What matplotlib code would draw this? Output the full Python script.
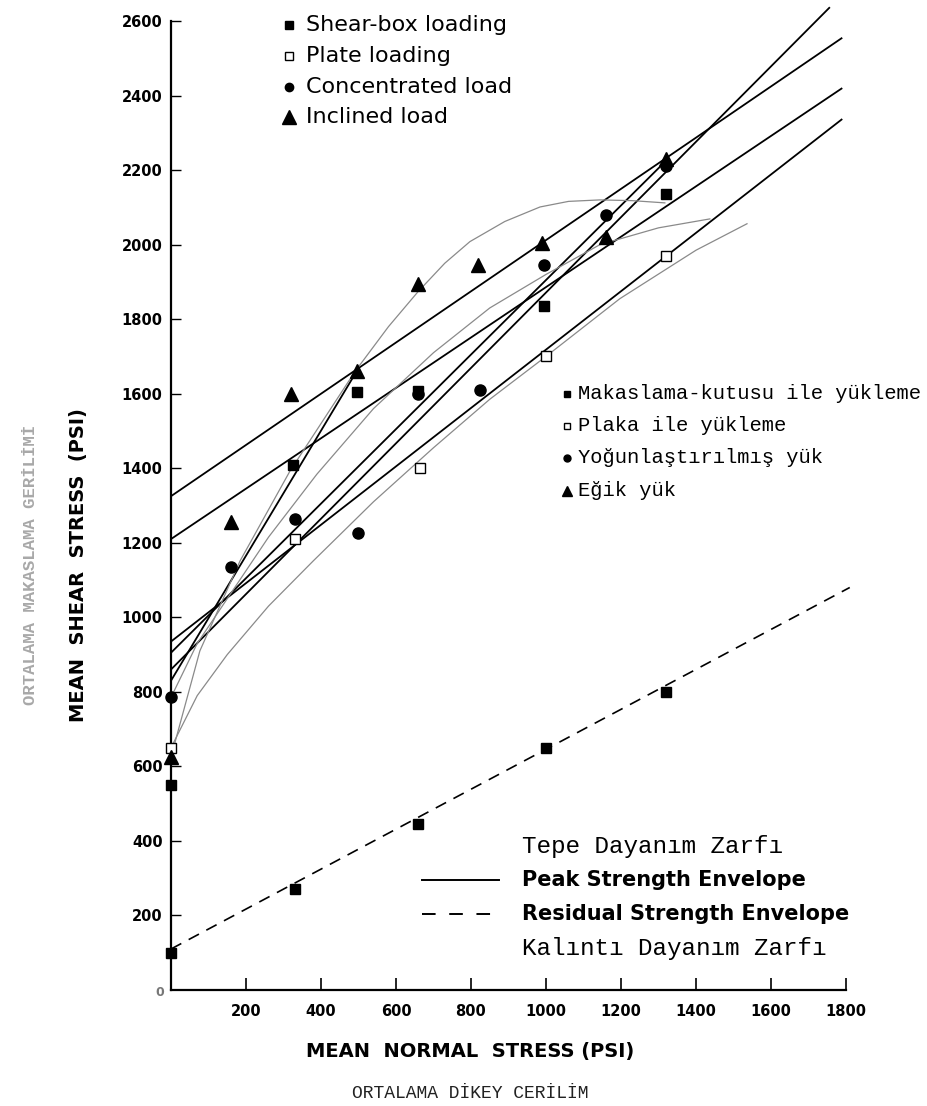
import matplotlib
matplotlib.use('Agg')
import matplotlib.pyplot as plt

# ---------------- data ----------------
shear_x = [0, 325, 495, 660, 995, 1320]
shear_y = [550, 1410, 1605, 1608, 1835, 2135]
plate_x = [0, 330, 665, 1000, 1320]
plate_y = [650, 1210, 1400, 1700, 1970]
conc_x = [0, 160, 330, 500, 660, 825, 995, 1160, 1320]
conc_y = [785, 1135, 1265, 1225, 1600, 1610, 1945, 2080, 2210]
incl_x = [0, 160, 320, 495, 660, 820, 990, 1160, 1320]
incl_y = [625, 1255, 1600, 1660, 1895, 1945, 2005, 2020, 2230]
resid_x = [0, 330, 660, 1000, 1320]
resid_y = [100, 270, 445, 650, 800]

# straight peak strength envelopes: (x0, y0, x1, y1)
peak_lines = [
    (0, 1325, 1790, 2555),
    (0, 1210, 1790, 2420),
    (0, 935, 1790, 2337),
    (0, 860, 1757, 2637),
    (0, 905, 1320, 2225),
    (0, 830, 495, 1660),
]
# curved (thin) envelopes
curve1_x = [0, 77, 184, 317, 491, 580, 659, 730, 797, 890, 984, 1060, 1144, 1230, 1317]
curve1_y = [625, 910, 1151, 1392, 1660, 1780, 1874, 1950, 2008, 2062, 2101, 2116, 2120, 2118, 2112]
curve2_x = [0, 70, 150, 260, 389, 540, 700, 850, 1000, 1144, 1300, 1437]
curve2_y = [785, 930, 1050, 1215, 1384, 1560, 1710, 1830, 1920, 2000, 2045, 2069]
curve3_x = [0, 70, 150, 260, 379, 540, 700, 850, 1000, 1197, 1400, 1536]
curve3_y = [650, 790, 900, 1030, 1151, 1310, 1455, 1585, 1700, 1855, 1985, 2056]
# residual envelope
resid_line_x = [0, 1810]
resid_line_y = [110, 1080]

xticks = [200, 400, 600, 800, 1000, 1200, 1400, 1600, 1800]
yticks = [200, 400, 600, 800, 1000, 1200, 1400, 1600, 1800, 2000, 2200, 2400, 2600]

# ---------------- layout ----------------
W, H = 928, 1106
fig = plt.figure(figsize=(W / 100, H / 100), dpi=100)


def fx(px):
    return px / W


def fy(py):
    return 1 - py / H


X0, Y0 = 171, 990
SX, SY = 0.375, 0.37269
ax = fig.add_axes([fx(X0), fy(Y0), (W - X0) / W, Y0 / H])
ax.set_xlim(0, (W - X0) / SX)
ax.set_ylim(0, Y0 / SY)

for s in ['top', 'right']:
    ax.spines[s].set_visible(False)
ax.spines['left'].set_bounds(0, 2600)
ax.spines['bottom'].set_bounds(0, 1800)
ax.spines['left'].set_linewidth(1.6)
ax.spines['bottom'].set_linewidth(1.6)

ax.set_xticks(xticks)
ax.set_xticklabels([str(v) for v in xticks])
ax.set_yticks(yticks)
ax.set_yticklabels([str(v) for v in yticks])
ax.tick_params(axis='x', direction='in', length=9, width=1.2, pad=10,
               labelsize=10.5)
ax.tick_params(axis='y', direction='in', length=7, width=1.0, pad=6,
               labelsize=10.5)
for t in ax.get_xticklabels():
    t.set_fontweight('bold')
for t in ax.get_yticklabels():
    t.set_fontweight('bold')

# lines
for (x0, y0, x1, y1) in peak_lines:
    ax.plot([x0, x1], [y0, y1], color='black', lw=1.3, solid_capstyle='butt')
for cx, cy in [(curve1_x, curve1_y), (curve2_x, curve2_y), (curve3_x, curve3_y)]:
    ax.plot(cx, cy, color='#8a8a8a', lw=0.9)
ax.plot(resid_line_x, resid_line_y, color='black', lw=1.2, dashes=(7, 5))

# markers
ms = dict(linestyle='none', clip_on=False, zorder=5)
ax.plot(shear_x, shear_y, marker='s', ms=7, color='black', **ms)
ax.plot(resid_x, resid_y, marker='s', ms=7, color='black', **ms)
ax.plot(plate_x, plate_y, marker='s', ms=7, mfc='white', mec='black', mew=1.0, **ms)
ax.plot(conc_x, conc_y, marker='o', ms=8, color='black', **ms)
ax.plot(incl_x, incl_y, marker='^', ms=9.5, color='black', **ms)

# origin label
fig.text(fx(160), fy(992), '0', fontsize=9, color='#777777', ha='center',
         va='center', fontweight='bold')

# axis labels
fig.text(fx(470), fy(1052), 'MEAN  NORMAL  STRESS (PSI)', fontsize=14,
         ha='center', va='center', fontweight='bold', family='DejaVu Sans')
fig.text(fx(470), fy(1093), 'ORTALAMA DİKEY CERİLİM', fontsize=13,
         ha='center', va='center', family='Liberation Mono', color='#222222')
fig.text(fx(79), fy(565), 'MEAN  SHEAR  STRESS  (PSI)', fontsize=14,
         rotation=90, ha='center', va='center', fontweight='bold')
fig.text(fx(31), fy(565), 'ORTALAMA MAKASLAMA GERİLİMİ', fontsize=12.5,
         rotation=90, ha='center', va='center', color='#a8a8a8',
         family='Liberation Mono', fontweight='bold')

# top-left legend (English)
leg1 = [('s', 'black', 'Shear-box loading'),
        ('s', 'white', 'Plate loading'),
        ('o', 'black', 'Concentrated load'),
        ('^', 'black', 'Inclined load')]
rows1 = [25, 56, 87, 117]
for (m, c, lab), py in zip(leg1, rows1):
    msz = 9.5 if m == '^' else 6
    fig.add_artist(plt.Line2D([fx(289)], [fy(py)], marker=m, ms=msz,
                              mfc=c, mec='black', mew=1.0, linestyle='none',
                              transform=fig.transFigure))
    fig.text(fx(306), fy(py), lab, fontsize=16, va='center', ha='left',
             family='DejaVu Sans')

# right legend (Turkish)
leg2 = [('s', 'black', 'Makaslama-kutusu ile yükleme'),
        ('s', 'white', 'Plaka ile yükleme'),
        ('o', 'black', 'Yoğunlaştırılmış yük'),
        ('^', 'black', 'Eğik yük')]
rows2 = [394, 426, 458, 491]
for (m, c, lab), py in zip(leg2, rows2):
    msz = 7 if m == '^' else 5
    fig.add_artist(plt.Line2D([fx(567)], [fy(py)], marker=m, ms=msz,
                              mfc=c, mec='black', mew=1.0, linestyle='none',
                              transform=fig.transFigure))
    fig.text(fx(578), fy(py), lab, fontsize=14.8, va='center', ha='left',
             family='Liberation Mono')

# bottom legend
fig.text(fx(522), fy(847), 'Tepe Dayanım Zarfı', fontsize=17.5, va='center',
         ha='left', family='Liberation Mono')
fig.add_artist(plt.Line2D([fx(422), fx(499)], [fy(880), fy(880)], color='black',
                          lw=1.4, transform=fig.transFigure))
fig.text(fx(522), fy(880), 'Peak Strength Envelope', fontsize=15, va='center',
         ha='left', fontweight='bold', family='DejaVu Sans')
fig.add_artist(plt.Line2D([fx(422), fx(499)], [fy(914), fy(914)], color='black',
                          lw=1.4, dashes=(7, 7), transform=fig.transFigure))
fig.text(fx(522), fy(914), 'Residual Strength Envelope', fontsize=15,
         va='center', ha='left', fontweight='bold', family='DejaVu Sans')
fig.text(fx(522), fy(948), 'Kalıntı Dayanım Zarfı', fontsize=17.5, va='center',
         ha='left', family='Liberation Mono')

fig.savefig('out.png', dpi=100, facecolor='white')
